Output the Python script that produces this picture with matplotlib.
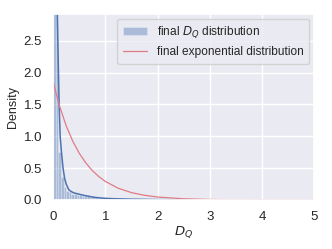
import matplotlib
matplotlib.use('Agg')
import matplotlib.pyplot as plt
import seaborn as sns

# histogram of final D_Q (density), bins of width 0.05 on [0, 5]
bin_edges = [i * 0.05 for i in range(101)]
hist_heights = [10.0, 4.5, 0.76, 0.36, 0.2, 0.14, 0.12, 0.1, 0.09, 0.085,
                0.075, 0.068, 0.06, 0.055, 0.05, 0.045, 0.04, 0.036, 0.032, 0.028,
                0.025, 0.023, 0.021, 0.02, 0.019, 0.018, 0.016, 0.015, 0.014, 0.013,
                0.012, 0.011, 0.01, 0.009, 0.008, 0.007, 0.007, 0.006, 0.006, 0.005]
hist_heights += [0.003] * 20 + [0.001] * 20 + [0.0] * 20

# kde of final D_Q
kde_x = [0.05, 0.065, 0.08, 0.1, 0.115, 0.135, 0.16, 0.19, 0.22, 0.25, 0.3, 0.35,
         0.4, 0.5, 0.6, 0.7, 0.8, 1.0, 1.2, 1.5, 2.0, 2.5, 3.0, 4.0, 5.0]
kde_y = [5.0, 3.8, 2.9, 2.1, 1.5, 1.0, 0.75, 0.5, 0.34, 0.25, 0.16, 0.13,
         0.11, 0.09, 0.07, 0.055, 0.04, 0.025, 0.018, 0.012, 0.006, 0.003, 0.001, 0.0005, 0.0]

# fitted exponential distribution
exp_x = [0.0, 0.125, 0.25, 0.375, 0.5, 0.625, 0.75, 0.875, 1.0, 1.25, 1.5, 1.75,
         2.0, 2.5, 3.0, 3.5, 4.0, 5.0]
exp_y = [1.85, 1.47, 1.165, 0.925, 0.734, 0.583, 0.462, 0.367, 0.291, 0.183, 0.115, 0.073,
         0.046, 0.018, 0.007, 0.003, 0.001, 0.0002]

sns.set_theme(style='darkgrid')
plt.rcParams['font.family'] = ['Liberation Sans', 'DejaVu Sans']

fig = plt.figure(figsize=(3.32, 2.49), dpi=100)
ax = fig.add_axes([0.16, 0.197, 0.786, 0.747])

ax.hist(bin_edges[:-1], bins=bin_edges, weights=hist_heights,
        color='#4c72b0', alpha=0.4, edgecolor='white', linewidth=0.4,
        label='final $D_Q$ distribution')
ax.plot(kde_x, kde_y, color='#4c72b0', lw=1.1)
ax.plot(exp_x, exp_y, color='#e07b84', lw=0.9, label='final exponential distribution')

ax.set_xlim(0, 5)
ax.set_ylim(0, 2.92)
ax.set_xticks([0, 1, 2, 3, 4, 5])
ax.set_yticks([0, 0.5, 1.0, 1.5, 2.0, 2.5])
ax.tick_params(labelsize=9.5, pad=2)
ax.set_xlabel('$D_Q$', fontsize=9.5, labelpad=1)
ax.set_ylabel('Density', fontsize=9, labelpad=3)

ax.legend(loc='upper right', fontsize=8.6, borderpad=0.5, handlelength=2.0,
          borderaxespad=0.4)

fig.savefig('out.png', dpi=100)
